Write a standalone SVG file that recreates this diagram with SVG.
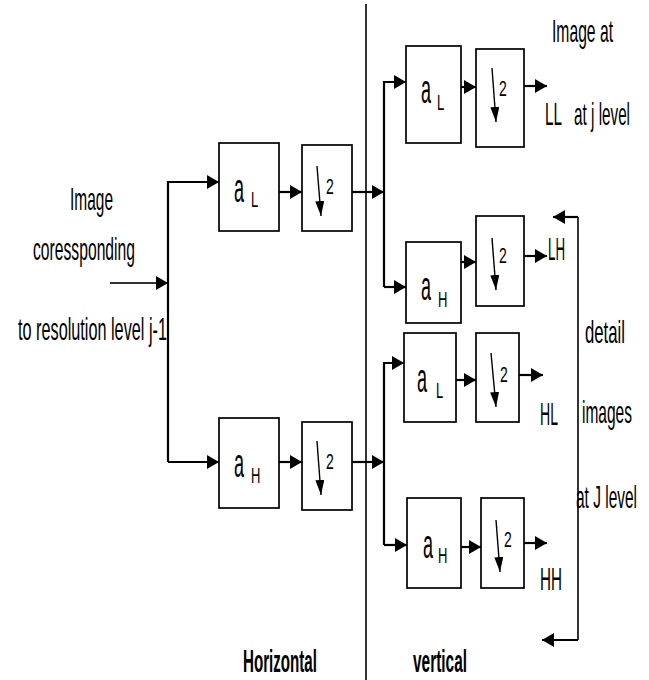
<svg xmlns="http://www.w3.org/2000/svg" width="649" height="680" viewBox="0 0 649 680">
<defs>
<marker id="ah" markerUnits="userSpaceOnUse" markerWidth="12" markerHeight="14" refX="12" refY="7" orient="auto"><path d="M0,0 L12,7 L0,14 z" fill="#000"/></marker>
<marker id="dn" markerUnits="userSpaceOnUse" markerWidth="15" markerHeight="9" refX="15" refY="4.5" orient="auto"><path d="M0,0 L15,4.5 L0,9 z" fill="#000"/></marker>
<style>
.box{fill:#fff;stroke:#000;stroke-width:1.7}
.ln{fill:none;stroke:#000;stroke-width:1.6}
.ar{fill:none;stroke:#000;stroke-width:2.2;marker-end:url(#ah)}
.da{fill:none;stroke:#000;stroke-width:1.4;marker-end:url(#dn)}
text{font-family:"Liberation Sans",Arial,sans-serif;fill:#000}
.t{font-size:15.7px}
.a{font-size:18px}
.s{font-size:13px}
.two{font-size:14px}
</style>
</defs>

<g id="connectors">
<line class="ln" x1="366" y1="4" x2="366" y2="680"/>
<line class="ar" x1="110" y1="283" x2="168" y2="283" style="stroke:#333"/>
<polyline class="ar" points="168,462 168,182 219,182"/>
<line class="ar" x1="168" y1="462" x2="219" y2="462"/>
<line class="ar" x1="279" y1="192" x2="302" y2="192"/>
<line class="ar" x1="279" y1="462" x2="302" y2="462"/>
<line class="ar" x1="352" y1="192" x2="384" y2="192"/>
<line class="ar" x1="352" y1="462" x2="384" y2="462"/>
<polyline class="ar" points="384,287 384,82 406,82"/>
<line class="ar" x1="384" y1="287" x2="406" y2="287"/>
<polyline class="ar" points="384,545 384,363 404,363"/>
<line class="ar" x1="384" y1="545" x2="407" y2="545"/>
<line class="ar" x1="461" y1="87" x2="476" y2="87"/>
<line class="ar" x1="461" y1="262" x2="476" y2="262"/>
<line class="ar" x1="456" y1="380" x2="476" y2="380"/>
<line class="ar" x1="461" y1="547" x2="481" y2="547"/>
<line class="ar" x1="524" y1="86" x2="547" y2="86"/>
<line class="ar" x1="524" y1="256" x2="547" y2="256"/>
<line class="ar" x1="519" y1="375" x2="543" y2="375"/>
<line class="ar" x1="524" y1="543" x2="547" y2="543"/>
<line class="ln" x1="578" y1="217" x2="578" y2="640"/>
<line class="ar" x1="578" y1="217" x2="553" y2="217"/>
<line class="ar" x1="578" y1="640" x2="542" y2="640"/>
</g>

<g id="h-aL">
<rect class="box" x="219" y="143" width="60" height="88"/>
<text class="a" transform="translate(234,202) scale(1,2.3)">a</text>
<text class="s" transform="translate(251,207) scale(1,1.7)">L</text>
</g>
<g id="h-ds1">
<rect class="box" x="302" y="145" width="50" height="86"/>
<line class="da" x1="317" y1="166" x2="321" y2="216"/>
<text class="two" transform="translate(326,194) scale(1,1.6)">2</text>
</g>
<g id="h-aH">
<rect class="box" x="219" y="418" width="60" height="90"/>
<text class="a" transform="translate(234,477) scale(1,2.3)">a</text>
<text class="s" transform="translate(251,483) scale(1,1.7)">H</text>
</g>
<g id="h-ds2">
<rect class="box" x="302" y="422" width="50" height="88"/>
<line class="da" x1="317" y1="441" x2="321" y2="495"/>
<text class="two" transform="translate(326,469) scale(1,1.6)">2</text>
</g>

<g id="v-aL1">
<rect class="box" x="406" y="46" width="55" height="97"/>
<text class="a" transform="translate(421,103) scale(1,2.3)">a</text>
<text class="s" transform="translate(437,110) scale(1,1.7)">L</text>
</g>
<g id="v-ds1">
<rect class="box" x="476" y="49" width="48" height="98"/>
<line class="da" x1="492" y1="68" x2="496" y2="122"/>
<text class="two" transform="translate(499,96) scale(1,1.6)">2</text>
</g>
<g id="v-aH1">
<rect class="box" x="406" y="242" width="55" height="81"/>
<text class="a" transform="translate(421,300) scale(1,2.3)">a</text>
<text class="s" transform="translate(438,307) scale(1,1.7)">H</text>
</g>
<g id="v-ds2">
<rect class="box" x="476" y="216" width="48" height="90"/>
<line class="da" x1="492" y1="238" x2="496" y2="290"/>
<text class="two" transform="translate(499,263) scale(1,1.6)">2</text>
</g>
<g id="v-aL2">
<rect class="box" x="404" y="333" width="52" height="89"/>
<text class="a" transform="translate(417,392) scale(1,2.3)">a</text>
<text class="s" transform="translate(436,398) scale(1,1.7)">L</text>
</g>
<g id="v-ds3">
<rect class="box" x="476" y="333" width="43" height="89"/>
<line class="da" x1="491" y1="353" x2="496" y2="407"/>
<text class="two" transform="translate(500,382) scale(1,1.6)">2</text>
</g>
<g id="v-aH2">
<rect class="box" x="407" y="498" width="54" height="90"/>
<text class="a" transform="translate(423,558) scale(1,2.3)">a</text>
<text class="s" transform="translate(438,563) scale(1,1.7)">H</text>
</g>
<g id="v-ds4">
<rect class="box" x="481" y="498" width="43" height="90"/>
<line class="da" x1="496" y1="520" x2="500" y2="572"/>
<text class="two" transform="translate(504,547) scale(1,1.6)">2</text>
</g>

<g id="labels">
<text class="t" transform="translate(70,210) scale(1,2)" textLength="43" lengthAdjust="spacingAndGlyphs">Image</text>
<text class="t" transform="translate(33,260) scale(1,2)" textLength="102" lengthAdjust="spacingAndGlyphs">coressponding</text>
<text class="t" transform="translate(18,340) scale(1,2)" textLength="149" lengthAdjust="spacingAndGlyphs">to resolution level j-1</text>
<text class="t" transform="translate(552,42) scale(1,2)" textLength="61" lengthAdjust="spacingAndGlyphs">Image at</text>
<text class="t" transform="translate(545,125) scale(1,2)" textLength="85" lengthAdjust="spacingAndGlyphs" xml:space="preserve">LL   at j level</text>
<text class="t" transform="translate(548,260) scale(1,2)" textLength="17" lengthAdjust="spacingAndGlyphs">LH</text>
<text class="t" transform="translate(540,425) scale(1,2)" textLength="18" lengthAdjust="spacingAndGlyphs">HL</text>
<text class="t" transform="translate(540,590) scale(1,2)" textLength="22" lengthAdjust="spacingAndGlyphs">HH</text>
<text class="t" transform="translate(585,343) scale(1,2)" textLength="40" lengthAdjust="spacingAndGlyphs">detail</text>
<text class="t" transform="translate(582,423) scale(1,2)" textLength="50" lengthAdjust="spacingAndGlyphs">images</text>
<text class="t" transform="translate(576,508) scale(1,2)" textLength="61" lengthAdjust="spacingAndGlyphs">at J level</text>
<text class="t" transform="translate(243,672) scale(1,2)" textLength="74" lengthAdjust="spacingAndGlyphs" font-weight="bold">Horizontal</text>
<text class="t" transform="translate(413,672) scale(1,2)" textLength="54" lengthAdjust="spacingAndGlyphs" font-weight="bold">vertical</text>
</g>
</svg>
